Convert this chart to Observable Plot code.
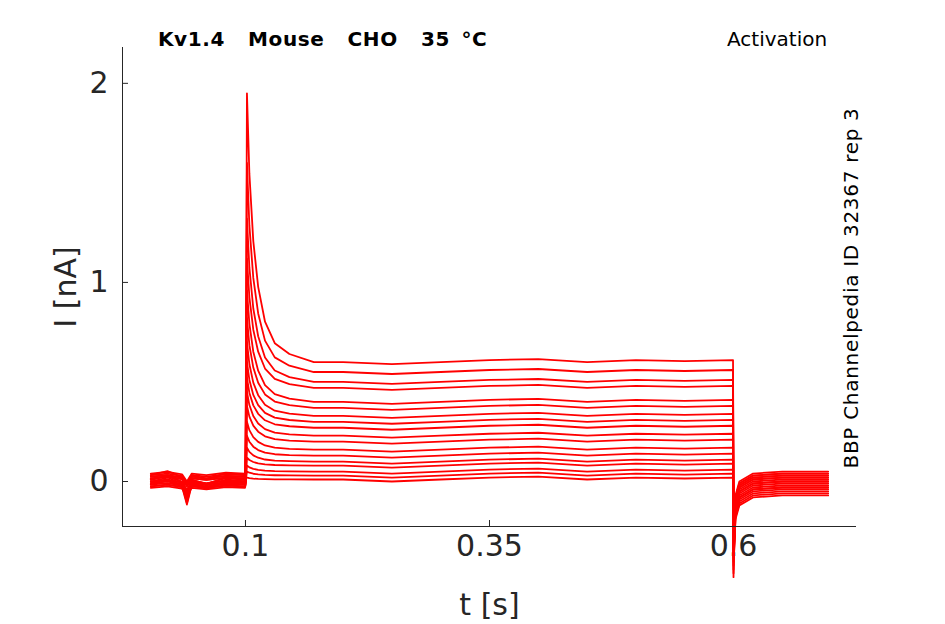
<!DOCTYPE html>
<html><head><meta charset="utf-8">
<script src="https://cdn.jsdelivr.net/npm/d3@7"></script>
<script src="https://cdn.jsdelivr.net/npm/@observablehq/plot@0.6"></script>
<style>body{margin:0;background:#fff;font-family:"DejaVu Sans",sans-serif}#c{position:relative;width:945px;height:624px}
.t{position:absolute;color:#000;white-space:nowrap}</style></head><body>
<div id="c"></div>
<script>
// peak current (nA) and steady-state current (nA) per sweep
const peaks  = [1.95,1.6,1.32,1.12,0.96,0.82,0.7,0.6,0.52,0.45,0.38,0.3,0.23,0.17,0.12,0.08,0.05,0.02];
const steady = [0.6,0.55,0.5,0.47,0.4,0.37,0.33,0.3,0.27,0.23,0.2,0.16,0.13,0.1,0.08,0.05,0.03,0.01];
const pre    = [0.04,0.02,0.0,-0.02,0.03,-0.03,0.01,-0.04,0.05,-0.01,0.02,-0.02,0.0,0.03,-0.03,0.01,-0.01,0.04];
const post   = [0.05,0.03,0.0,-0.03,-0.06,0.04,-0.02,0.01,-0.05,0.02,-0.04,0.03,-0.01,0.0,-0.07,0.04,-0.03,0.02];
// sampled times (s)
const preT   = [0.003,0.02,0.035,0.04,0.045,0.06,0.08,0.0995];
const preW   = [0.0,0.02,-0.01,-0.1,0.0,-0.02,0.01,0.0];
const decT   = [0.1,0.1015,0.104,0.108,0.113,0.12,0.13,0.145,0.17];
const decF   = [0.0,1,0.7,0.45,0.28,0.15,0.07,0.03,0];
const flatT  = [0.2,0.25,0.3,0.35,0.4,0.45,0.5,0.55,0.5995];
const flatW  = [0.0,-0.01,0.0,0.01,0.015,0.0,0.01,0.005,0.01];
const tailT  = [0.6,0.6005,0.602,0.606,0.62,0.65,0.697];
const tailW  = [-0.5,-0.3,-0.12,-0.05,-0.01,0.0,0.0];

const rows=[];
peaks.forEach((p,i)=>{
  preT.forEach((t,j)=>rows.push({k:i,t,v:pre[i]*0.8+preW[j]*(i%3===0?1:0.4)}));
  decT.forEach((t,j)=>rows.push({k:i,t,v:j===0?pre[i]*0.5:steady[i]+(p-steady[i])*decF[j]}));
  flatT.forEach((t,j)=>rows.push({k:i,t,v:steady[i]+flatW[j]}));
  tailT.forEach((t,j)=>rows.push({k:i,t,v:(j===0?0:post[i])+tailW[j]*(j===0?(0.3+0.7*i/peaks.length):1)}));
});

const chart = Plot.plot({
  width:945,height:624,marginLeft:122,marginRight:89,marginTop:47,marginBottom:98,
  style:{fontFamily:"DejaVu Sans",color:"#262626",fontSize:"28px"},
  x:{domain:[-0.026,0.726],ticks:[0.1,0.35,0.6],tickFormat:d=>String(d),label:"t [s]",labelArrow:false,labelAnchor:"center",labelOffset:88,tickSize:-6,tickPadding:14},
  y:{domain:[-0.226,2.18],ticks:[0,1,2],tickFormat:d=>String(d),label:"I [nA]",labelArrow:false,labelAnchor:"center",labelOffset:68,tickSize:-6,tickPadding:20},
  marks:[
    Plot.line(rows,{x:"t",y:"v",z:"k",stroke:"#ff0000",strokeWidth:1.8}),
    Plot.ruleX([-0.026],{stroke:"#262626"}),
    Plot.ruleY([-0.226],{stroke:"#262626"})
  ]
});
chart.querySelectorAll('[aria-label$="label"] text').forEach(t=>t.style.fontSize="30px");
const c=document.getElementById("c");c.appendChild(chart);
c.insertAdjacentHTML("beforeend",`<div class="t" style="left:158px;top:27px;font-size:20px;font-weight:bold;word-spacing:4px;letter-spacing:0.6px">Kv1.4&nbsp; Mouse&nbsp; CHO&nbsp; 35 °C</div>
<div class="t" style="left:727px;top:27px;font-size:20px">Activation</div>
<div class="t" style="left:851px;top:288px;font-size:20px;letter-spacing:0.7px;transform:translate(-50%,-50%) rotate(-90deg)">BBP Channelpedia ID 32367 rep 3</div>`);
</script></body></html>
